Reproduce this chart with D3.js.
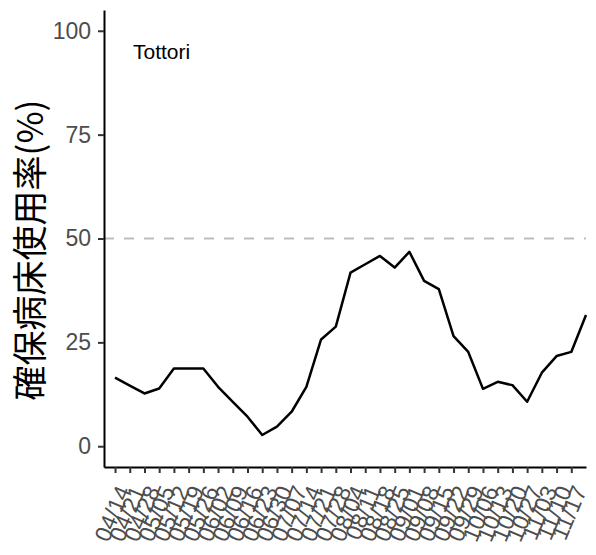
<!DOCTYPE html>
<html lang="ja">
<head>
    <meta charset="utf-8">
    <title>Tottori</title>
    <script type="text/javascript" src="https://cdn.jsdelivr.net/npm/d3@7"></script>
    <style>
        body { margin: 0; background: #fff; }
        .axis text { font-family: "Liberation Sans", Arial, sans-serif; fill: #4d4d4d; }
    </style>
</head>
<body>
<div id="chart"></div>
<script type="text/javascript">
    var w = 596;
    var h = 555;

    // weekly labels shown on the x axis
    var weekLabels = ["04/14", "04/21", "04/28", "05/05", "05/12", "05/19", "05/26", "06/02",
        "06/09", "06/16", "06/23", "06/30", "07/07", "07/14", "07/21", "07/28",
        "08/04", "08/11", "08/18", "08/25", "09/01", "09/08", "09/15", "09/22",
        "09/29", "10/06", "10/13", "10/20", "10/27", "11/03", "11/10", "11/17"];

    // bed occupancy (%), one value per week (last one has no label)
    var occupancy = [16.5, 14.6, 12.7, 13.9, 18.7, 18.7, 18.7, 14.3, 10.7, 7.1, 2.7, 4.7,
        8.3, 14.3, 25.7, 28.8, 41.8, 43.8, 45.8, 43, 46.8, 39.8, 37.8, 26.5,
        22.7, 13.8, 15.5, 14.7, 10.7, 17.7, 21.7, 22.7, 31.6];

    var yTicks = [0, 25, 50, 75, 100];
    var refLine = 50;
    var region = "Tottori";
    var yTitle = "確保病床使用率(%)";

    var padLeft = 104, padRight = 586, padTop = 10, padBottom = 467;

    var svg = d3.select("#chart")
        .append("svg")
        .attr("width", w)
        .attr("height", h);

    var xScale = d3.scaleLinear()
        .domain([-0.75, occupancy.length - 1])
        .range([padLeft, padRight]);

    var yScale = d3.scaleLinear()
        .domain([-5, 105])
        .range([padBottom, padTop]);

    // dashed reference line
    svg.append("line")
        .attr("x1", padLeft)
        .attr("x2", padRight)
        .attr("y1", yScale(refLine))
        .attr("y2", yScale(refLine))
        .attr("stroke", "#bdbdbd")
        .attr("stroke-width", 2)
        .attr("stroke-dasharray", "10,10");

    var line = d3.line()
        .x(function (d, i) { return xScale(i); })
        .y(function (d) { return yScale(d); });

    svg.append("path")
        .datum(occupancy)
        .attr("d", line)
        .attr("fill", "none")
        .attr("stroke", "#000")
        .attr("stroke-width", 2.5)
        .attr("stroke-linejoin", "round");

    var yAxis = d3.axisLeft(yScale)
        .tickValues(yTicks)
        .tickSize(6)
        .tickPadding(7)
        .tickSizeOuter(0);

    var gy = svg.append("g")
        .attr("class", "axis")
        .attr("transform", "translate(" + padLeft + ",0)")
        .call(yAxis);
    gy.selectAll("text").style("font-size", "23px");
    gy.select(".domain").attr("stroke", "#000").attr("stroke-width", 2);
    gy.selectAll(".tick line").attr("stroke", "#333").attr("stroke-width", 2);

    var xAxis = d3.axisBottom(xScale)
        .tickValues(d3.range(weekLabels.length))
        .tickFormat(function (i) { return weekLabels[i]; })
        .tickSize(6)
        .tickSizeOuter(0);

    var gx = svg.append("g")
        .attr("class", "axis")
        .attr("transform", "translate(0," + padBottom + ")")
        .call(xAxis);
    gx.select(".domain").attr("stroke", "#000").attr("stroke-width", 2);
    gx.selectAll(".tick line").attr("stroke", "#333").attr("stroke-width", 2);
    gx.selectAll("text")
        .style("font-size", "23px")
        .attr("text-anchor", "end")
        .attr("y", 0)
        .attr("dy", "0.35em")
        .attr("transform", "translate(8,20) rotate(-67)");

    svg.append("text")
        .attr("x", 133)
        .attr("y", 59)
        .style("font-family", "Liberation Sans, Arial, sans-serif")
        .style("font-size", "21px")
        .text(region);

    svg.append("text")
        .attr("text-anchor", "middle")
        .attr("transform", "translate(43,250) rotate(-90)")
        .style("font-family", "Noto Sans CJK JP, sans-serif")
        .style("font-size", "35px")
        .text(yTitle);
</script>
</body>
</html>
